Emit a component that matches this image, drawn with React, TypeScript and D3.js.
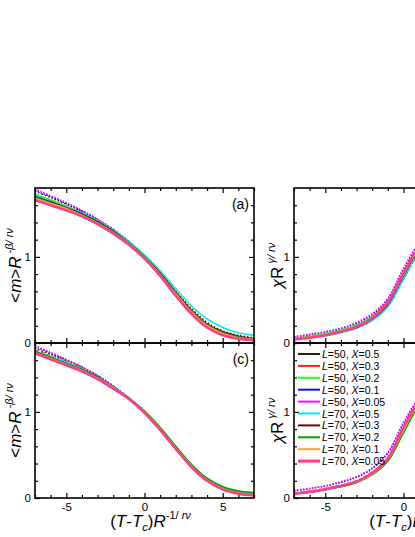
import {useEffect, useRef} from "react";
import * as d3 from "d3";

// scaled temperature (T-Tc)R^(-1/rv)
const tValues = [-7, -6, -5, -4, -3, -2, -1, 0, 1, 2, 3, 4, 5, 6, 7];

const seriesNames = [
    ["50", "0.5"], ["50", "0.3"], ["50", "0.2"], ["50", "0.1"], ["50", "0.05"],
    ["70", "0.5"], ["70", "0.3"], ["70", "0.2"], ["70", "0.1"], ["70", "0.05"]
];

// panel (a): <m>R^(-beta/rv), one row per legend entry
const panelA = [
    [1.76, 1.69, 1.61, 1.53, 1.43, 1.32, 1.18, 1.01, 0.82, 0.60, 0.40, 0.24, 0.14, 0.09, 0.06],
    [1.72, 1.66, 1.59, 1.51, 1.41, 1.30, 1.16, 1.00, 0.80, 0.58, 0.37, 0.21, 0.12, 0.07, 0.05],
    [1.73, 1.66, 1.59, 1.51, 1.42, 1.31, 1.17, 1.01, 0.81, 0.59, 0.38, 0.22, 0.12, 0.07, 0.05],
    [1.77, 1.70, 1.62, 1.53, 1.43, 1.31, 1.17, 1.00, 0.80, 0.57, 0.36, 0.20, 0.11, 0.06, 0.04],
    [1.79, 1.71, 1.63, 1.54, 1.44, 1.32, 1.17, 1.00, 0.79, 0.56, 0.35, 0.19, 0.10, 0.06, 0.04],
    [1.71, 1.65, 1.58, 1.51, 1.42, 1.31, 1.18, 1.02, 0.84, 0.63, 0.43, 0.28, 0.18, 0.12, 0.09],
    [1.70, 1.64, 1.57, 1.50, 1.41, 1.30, 1.16, 1.00, 0.81, 0.59, 0.38, 0.22, 0.13, 0.08, 0.05],
    [1.69, 1.63, 1.56, 1.49, 1.40, 1.29, 1.16, 1.00, 0.80, 0.58, 0.37, 0.21, 0.12, 0.07, 0.05],
    [1.68, 1.62, 1.56, 1.48, 1.39, 1.28, 1.15, 0.99, 0.79, 0.57, 0.36, 0.20, 0.11, 0.06, 0.04],
    [1.66, 1.60, 1.54, 1.47, 1.38, 1.27, 1.14, 0.98, 0.78, 0.55, 0.34, 0.18, 0.09, 0.05, 0.03]
];

// panel (b): chi R^(gamma/rv)
const panelB = [
    [0.05, 0.07, 0.10, 0.13, 0.18, 0.27, 0.43, 0.74, 1.02, 1.08, 0.92, 0.70, 0.51, 0.37, 0.28],
    [0.05, 0.08, 0.11, 0.15, 0.21, 0.31, 0.49, 0.82, 1.10, 1.14, 0.96, 0.72, 0.52, 0.38, 0.28],
    [0.05, 0.08, 0.11, 0.15, 0.21, 0.31, 0.48, 0.81, 1.09, 1.13, 0.95, 0.71, 0.52, 0.38, 0.28],
    [0.07, 0.10, 0.13, 0.17, 0.23, 0.33, 0.51, 0.85, 1.12, 1.16, 0.97, 0.72, 0.52, 0.38, 0.28],
    [0.07, 0.10, 0.13, 0.17, 0.24, 0.34, 0.52, 0.87, 1.14, 1.17, 0.98, 0.73, 0.53, 0.38, 0.28],
    [0.04, 0.06, 0.08, 0.12, 0.17, 0.26, 0.42, 0.74, 1.04, 1.10, 0.94, 0.71, 0.52, 0.38, 0.28],
    [0.04, 0.07, 0.09, 0.13, 0.18, 0.28, 0.45, 0.78, 1.07, 1.12, 0.95, 0.71, 0.52, 0.38, 0.28],
    [0.04, 0.07, 0.09, 0.13, 0.19, 0.29, 0.46, 0.79, 1.08, 1.13, 0.95, 0.71, 0.52, 0.38, 0.28],
    [0.04, 0.07, 0.09, 0.13, 0.19, 0.29, 0.47, 0.80, 1.09, 1.14, 0.96, 0.72, 0.52, 0.38, 0.28],
    [0.04, 0.06, 0.09, 0.13, 0.19, 0.29, 0.47, 0.81, 1.10, 1.15, 0.96, 0.72, 0.52, 0.38, 0.28]
];

// panel (c): <m>R^(-beta/rv), better collapse
const panelC = [
    [1.74, 1.67, 1.60, 1.52, 1.42, 1.30, 1.16, 1.00, 0.80, 0.58, 0.37, 0.21, 0.11, 0.06, 0.04],
    [1.72, 1.65, 1.58, 1.50, 1.41, 1.29, 1.16, 1.00, 0.80, 0.58, 0.37, 0.21, 0.11, 0.06, 0.04],
    [1.71, 1.64, 1.57, 1.50, 1.41, 1.29, 1.16, 1.01, 0.82, 0.60, 0.39, 0.23, 0.13, 0.08, 0.06],
    [1.76, 1.68, 1.60, 1.52, 1.42, 1.30, 1.16, 1.00, 0.80, 0.58, 0.37, 0.21, 0.11, 0.06, 0.04],
    [1.77, 1.69, 1.61, 1.52, 1.42, 1.30, 1.16, 1.00, 0.80, 0.57, 0.36, 0.20, 0.10, 0.05, 0.03],
    [1.70, 1.64, 1.57, 1.49, 1.40, 1.29, 1.16, 1.01, 0.81, 0.59, 0.38, 0.22, 0.12, 0.07, 0.05],
    [1.70, 1.63, 1.56, 1.49, 1.40, 1.28, 1.15, 1.00, 0.80, 0.58, 0.37, 0.21, 0.11, 0.06, 0.04],
    [1.69, 1.63, 1.56, 1.49, 1.40, 1.28, 1.16, 1.01, 0.82, 0.60, 0.39, 0.23, 0.13, 0.08, 0.06],
    [1.69, 1.62, 1.55, 1.48, 1.39, 1.28, 1.15, 1.00, 0.80, 0.58, 0.37, 0.21, 0.11, 0.06, 0.04],
    [1.68, 1.61, 1.54, 1.47, 1.38, 1.27, 1.15, 0.99, 0.79, 0.57, 0.36, 0.20, 0.10, 0.05, 0.03]
];

// panel (d): chi R^(gamma/rv), better collapse
const panelD = [
    [0.05, 0.08, 0.10, 0.14, 0.19, 0.28, 0.45, 0.79, 1.08, 1.12, 0.95, 0.71, 0.52, 0.38, 0.28],
    [0.05, 0.08, 0.11, 0.15, 0.20, 0.30, 0.47, 0.82, 1.10, 1.14, 0.96, 0.72, 0.52, 0.38, 0.28],
    [0.05, 0.07, 0.10, 0.13, 0.18, 0.27, 0.43, 0.75, 1.05, 1.11, 0.95, 0.71, 0.52, 0.38, 0.28],
    [0.08, 0.11, 0.14, 0.18, 0.24, 0.34, 0.52, 0.86, 1.13, 1.16, 0.97, 0.72, 0.52, 0.38, 0.28],
    [0.09, 0.11, 0.14, 0.19, 0.25, 0.35, 0.53, 0.88, 1.14, 1.17, 0.98, 0.73, 0.53, 0.38, 0.28],
    [0.05, 0.07, 0.10, 0.14, 0.19, 0.29, 0.46, 0.81, 1.09, 1.13, 0.95, 0.71, 0.52, 0.38, 0.28],
    [0.05, 0.07, 0.10, 0.14, 0.19, 0.28, 0.45, 0.80, 1.08, 1.13, 0.95, 0.71, 0.52, 0.38, 0.28],
    [0.05, 0.07, 0.10, 0.13, 0.18, 0.27, 0.43, 0.76, 1.06, 1.11, 0.95, 0.71, 0.52, 0.38, 0.28],
    [0.05, 0.07, 0.10, 0.14, 0.19, 0.28, 0.45, 0.79, 1.08, 1.12, 0.95, 0.71, 0.52, 0.38, 0.28],
    [0.05, 0.07, 0.10, 0.14, 0.19, 0.29, 0.46, 0.82, 1.10, 1.15, 0.96, 0.72, 0.52, 0.38, 0.28]
];

const colors = ["#222222", "#ff2020", "#20ff20", "#1010ff", "#ff00ff",
    "#00e5f0", "#7a0000", "#00a000", "#ffa040", "#ff3c8c"];
const widths = [1.5, 1.5, 1.5, 1.5, 1.5, 1.5, 1.5, 1.5, 1.8, 2.6];
const dashes = ["1.5,2", "4,2", null, "1.5,1.5", "1.5,1.5", null, null, null, null, null];

const FONT = "'Liberation Sans', Arial, sans-serif";

export default function App() {
    const ref = useRef<SVGSVGElement>(null);

    useEffect(() => {
        const svg = d3.select(ref.current);
        svg.selectAll("*").remove();

        const xLeft = d3.scaleLinear().domain([-7, 7]).range([35, 254]);
        const xRight = d3.scaleLinear().domain([-7, 7]).range([294, 513]);
        const yTop = d3.scaleLinear().domain([0, 1.8]).range([343, 188]);
        const yBottom = d3.scaleLinear().domain([0, 1.8]).range([498, 343]);

        const panels = [
            {id: "a", data: panelA, x: xLeft, y: yTop, labels: false},
            {id: "b", data: panelB, x: xRight, y: yTop, labels: false},
            {id: "c", data: panelC, x: xLeft, y: yBottom, labels: true},
            {id: "d", data: panelD, x: xRight, y: yBottom, labels: true}
        ];

        const defs = svg.append("defs");

        panels.forEach(p => {
            const [x0, x1] = p.x.range();
            const [y0, y1] = p.y.range();

            defs.append("clipPath").attr("id", "clip-" + p.id)
                .append("rect")
                .attr("x", x0).attr("y", y1)
                .attr("width", x1 - x0).attr("height", y0 - y1);

            const g = svg.append("g");

            // curves
            const line = d3.line<number>()
                .x((d, i) => p.x(tValues[i]))
                .y(d => p.y(d))
                .curve(d3.curveCatmullRom.alpha(0.5));

            const curves = g.append("g").attr("clip-path", `url(#clip-${p.id})`);
            p.data.forEach((vals, k) => {
                curves.append("path")
                    .attr("d", line(vals))
                    .attr("fill", "none")
                    .attr("stroke", colors[k])
                    .attr("stroke-width", widths[k])
                    .attr("stroke-dasharray", dashes[k])
                    .attr("stroke-linejoin", "round");
            });

            // ticks on all four sides, pointing inward
            const fmt = (d: any) => String(d);
            const styleAxis = (sel: any) => {
                sel.select(".domain").remove();
                sel.selectAll("line").attr("stroke", "#000").attr("stroke-width", 1.2);
                sel.selectAll("text").attr("font-family", FONT).attr("font-size", 11.5).attr("fill", "#000");
            };

            const minorX = [-7, -6, -4, -3, -2, -1, 1, 2, 3, 4, 6, 7];
            const bottom = g.append("g").attr("transform", `translate(0,${y0})`);
            bottom.call(d3.axisBottom(p.x).tickValues(minorX).tickSize(-3).tickFormat(() => ""));
            styleAxis(bottom);
            const bottomMajor = g.append("g").attr("transform", `translate(0,${y0})`);
            bottomMajor.call(d3.axisBottom(p.x).tickValues([-5, 0, 5]).tickSize(-5).tickPadding(5)
                .tickFormat(p.labels ? fmt : () => ""));
            styleAxis(bottomMajor);

            const top = g.append("g").attr("transform", `translate(0,${y1})`);
            top.call(d3.axisTop(p.x).tickValues(minorX).tickSize(-3).tickFormat(() => ""));
            styleAxis(top);
            const topMajor = g.append("g").attr("transform", `translate(0,${y1})`);
            topMajor.call(d3.axisTop(p.x).tickValues([-5, 0, 5]).tickSize(-5).tickFormat(() => ""));
            styleAxis(topMajor);

            const minorY = [0.2, 0.4, 0.6, 0.8, 1.2, 1.4, 1.6];
            const left = g.append("g").attr("transform", `translate(${x0},0)`);
            left.call(d3.axisLeft(p.y).tickValues(minorY).tickSize(-3).tickFormat(() => ""));
            styleAxis(left);
            const leftMajor = g.append("g").attr("transform", `translate(${x0},0)`);
            leftMajor.call(d3.axisLeft(p.y).tickValues([0, 1]).tickSize(-5).tickPadding(4).tickFormat(fmt));
            styleAxis(leftMajor);

            const right = g.append("g").attr("transform", `translate(${x1},0)`);
            right.call(d3.axisRight(p.y).tickValues(minorY).tickSize(-3).tickFormat(() => ""));
            styleAxis(right);
            const rightMajor = g.append("g").attr("transform", `translate(${x1},0)`);
            rightMajor.call(d3.axisRight(p.y).tickValues([1]).tickSize(-5).tickFormat(() => ""));
            styleAxis(rightMajor);

            // frame
            g.append("rect")
                .attr("x", x0).attr("y", y1)
                .attr("width", x1 - x0).attr("height", y0 - y1)
                .attr("fill", "none")
                .attr("stroke", "#000")
                .attr("stroke-width", 1.6);

            // panel tag
            g.append("text")
                .attr("x", x1 - 5).attr("y", y1 + 21)
                .attr("text-anchor", "end")
                .attr("font-family", FONT).attr("font-size", 14)
                .text(`(${p.id})`);
        });

        // axis titles
        const xTitle = (cx: number) => {
            const t = svg.append("text")
                .attr("x", cx).attr("y", 527)
                .attr("text-anchor", "middle")
                .attr("font-family", FONT).attr("font-size", 17);
            t.append("tspan").text("(");
            t.append("tspan").attr("font-style", "italic").text("T");
            t.append("tspan").text("-");
            t.append("tspan").attr("font-style", "italic").text("T");
            t.append("tspan").attr("font-style", "italic").attr("font-size", 11).attr("dy", 4).text("c");
            t.append("tspan").attr("dy", -4).text(")");
            t.append("tspan").attr("font-style", "italic").text("R");
            t.append("tspan").attr("font-size", 11).attr("dy", -8).text("-1/ ");
            t.append("tspan").attr("font-size", 11).attr("font-style", "italic").text("rν");
        };
        xTitle(xLeft(0) + 6);
        xTitle(xRight(0) + 6);

        [yTop, yBottom].forEach(ys => {
            const m = svg.append("text")
                .attr("transform", `translate(21,${ys(0.9)}) rotate(-90)`)
                .attr("text-anchor", "middle")
                .attr("font-family", FONT).attr("font-size", 17);
            m.append("tspan").text("<");
            m.append("tspan").attr("font-style", "italic").text("m");
            m.append("tspan").text(">");
            m.append("tspan").attr("font-style", "italic").text("R");
            m.append("tspan").attr("font-size", 11).attr("font-style", "italic").attr("dy", -8).text(" -β/ rν");

            const c = svg.append("text")
                .attr("transform", `translate(283,${ys(0.9)}) rotate(-90)`)
                .attr("text-anchor", "middle")
                .attr("font-family", FONT).attr("font-size", 17);
            c.append("tspan").attr("font-style", "italic").text("χ");
            c.append("tspan").text("R");
            c.append("tspan").attr("font-size", 11).attr("font-style", "italic").attr("dy", -8).text(" γ/ rν");
        });

        // legend in panel (d)
        const legend = svg.append("g").attr("transform", "translate(298,354)");
        seriesNames.forEach(([L, X], k) => {
            const row = legend.append("g").attr("transform", `translate(0,${k * 11.9})`);
            row.append("line")
                .attr("x1", 0).attr("x2", 22)
                .attr("stroke", colors[k])
                .attr("stroke-width", k === 9 ? 3 : 2);
            const t = row.append("text")
                .attr("x", 24).attr("y", 4)
                .attr("font-family", FONT).attr("font-size", 10.5);
            t.append("tspan").attr("font-style", "italic").text("L");
            t.append("tspan").text(`=${L}, `);
            t.append("tspan").attr("font-style", "italic").text("X");
            t.append("tspan").text(`=${X}`);
        });
    }, []);

    return <div style={{position: "absolute", left: 0, top: 0, width: 415, height: 537, overflow: "hidden", background: "#fff"}}>
        <svg ref={ref} width={415} height={537} style={{display: "block"}}/>
    </div>;
}
